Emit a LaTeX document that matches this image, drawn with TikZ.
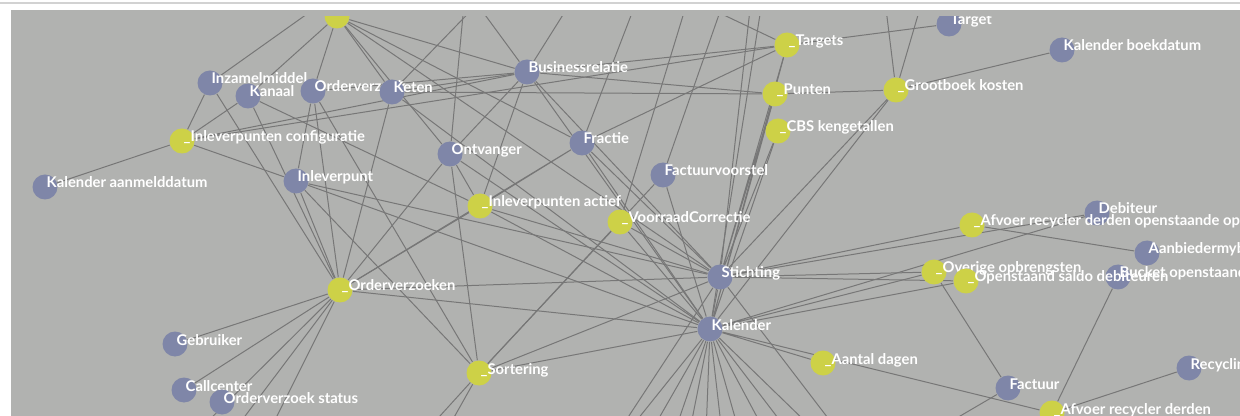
\documentclass[tikz,border=0pt]{standalone}
\usepackage{fontspec}
\setmainfont{Lato}
\usetikzlibrary{backgrounds}
\definecolor{panel-gray}{HTML}{B1B2B0}
\definecolor{rule-gray}{HTML}{D2D2D2}
\definecolor{node-blue}{HTML}{7F86A8}
\definecolor{node-yellow}{HTML}{CDD147}
\definecolor{link-gray}{HTML}{777777}
\tikzset{
    blue-node/.style = {circle, fill=node-blue, minimum size=12.5pt, inner sep=0pt},
    yellow-node/.style = {circle, fill=node-yellow, minimum size=12.5pt, inner sep=0pt},
    node-label/.style = {text=white, font=\fontsize{7.4}{8}\selectfont\bfseries, inner sep=0pt, anchor=base west, xshift=-5.8pt, yshift=-0.5pt},
    link/.style = {draw=link-gray, line width=0.5pt},
}

\begin{document}
\begin{tikzpicture}[x=0.5pt, y=-0.5pt]
\useasboundingbox (0,0) rectangle (1240,416);

\begin{scope}
\clip (11,17) rectangle (1240,416);
\node [yellow-node] (t1) at (337,16) {};
\node [blue-node, label={[node-label]0:Target}] (tgt) at (949,24) {};
\node [blue-node, label={[node-label]0:Kalender boekdatum}] (kalbk) at (1062,50) {};
\node [yellow-node, label={[node-label]0:\_Targets}] (targets) at (787,45) {};
\node [yellow-node, label={[node-label]0:\_Punten}] (punten) at (775,94) {};
\node [yellow-node, label={[node-label]0:\_CBS kengetallen}] (cbs) at (778,131) {};
\node [yellow-node, label={[node-label]0:\_Grootboek kosten}] (grootb) at (896,90) {};
\node [blue-node, label={[node-label]0:Businessrelatie}] (busrel) at (527,72) {};
\node [blue-node, label={[node-label]0:Inzamelmiddel}] (inzam) at (210,83) {};
\node [blue-node, label={[node-label]0:Kanaal}] (kanaal) at (248,96) {};
\node [blue-node, label={[node-label]0:Orderverzoek}] (ordrq) at (313,91) {};
\node [blue-node, label={[node-label]0:Keten}] (keten) at (392,92) {};
\node [yellow-node, label={[node-label]0:\_Inleverpunten configuratie}] (inlcfg) at (182,141) {};
\node [blue-node, label={[node-label]0:Kalender aanmelddatum}] (kaldat) at (45,187) {};
\node [blue-node, label={[node-label]0:Inleverpunt}] (inlpunt) at (296,181) {};
\node [blue-node, label={[node-label]0:Ontvanger}] (ontv) at (450,154) {};
\node [blue-node, label={[node-label]0:Fractie}] (fractie) at (582,143) {};
\node [blue-node, label={[node-label]0:Factuurvoorstel}] (factvs) at (663,175) {};
\node [yellow-node, label={[node-label]0:\_Inleverpunten actief}] (inlact) at (480,206) {};
\node [yellow-node, label={[node-label]0:\_VoorraadCorrectie}] (voorraad) at (620,222) {};
\node [blue-node, label={[node-label]0:Stichting}] (sticht) at (720,277) {};
\node [blue-node, label={[node-label]0:Kalender}] (kal) at (710,329) {};
\node [yellow-node, label={[node-label]0:\_Orderverzoeken}] (ordv) at (340,290) {};
\node [blue-node, label={[node-label]0:Gebruiker}] (gebr) at (175,344) {};
\node [blue-node, label={[node-label]0:Callcenter}] (callc) at (184,390) {};
\node [blue-node, label={[node-label]0:Orderverzoek status}] (ordst) at (222,402) {};
\node [yellow-node, label={[node-label]0:\_Sortering}] (sort) at (479,373) {};
\node [yellow-node, label={[node-label]0:\_Aantal dagen}] (aantal) at (823,363) {};
\node [blue-node, label={[node-label]0:Factuur}] (factuur) at (1008,388) {};
\node [yellow-node, label={[node-label]0:\_Afvoer recycler derden}] (afvoer) at (1052,413) {};
\node [blue-node, label={[node-label]0:Recyclin}] (recyc) at (1189,368) {};
\node [blue-node, label={[node-label]0:Debiteur}] (debit) at (1097,213) {};
\node [yellow-node, label={[node-label]0:\_Afvoer recycler derden openstaande op}] (afvopen) at (972,225) {};
\node [blue-node, label={[node-label]0:Aanbiedermyb}] (aanb) at (1147,253) {};
\node [yellow-node, label={[node-label]0:\_Overige opbrengsten}] (overig) at (934,272) {};
\node [blue-node, label={[node-label]0:Bucket openstaand}] (bucket) at (1118,277) {};
\node [yellow-node, label={[node-label]0:\_Openstaand saldo debiteuren}] (opensal) at (966,281) {};
\end{scope}

\coordinate (top-a) at (383,-40);
\coordinate (top-b) at (470,-60);
\coordinate (top-c) at (430,-60);
\coordinate (top-d) at (610,-60);
\coordinate (top-f) at (660,-60);
\coordinate (top-g) at (745,-60);
\coordinate (top-h) at (760,-80);
\coordinate (top-i) at (775,-80);
\coordinate (top-j) at (880,-40);
\coordinate (top-k) at (940,-60);
\coordinate (top-l) at (650,-20);
\coordinate (top-m) at (520,-40);
\coordinate (top-o) at (700,-40);
\coordinate (bot-a) at (169,460);
\coordinate (bot-b) at (212,460);
\coordinate (bot-c) at (255,460);
\coordinate (bot-d) at (400,460);
\coordinate (bot-e) at (430,460);
\coordinate (bot-f) at (605,460);
\coordinate (bot-g) at (635,460);
\coordinate (bot-h) at (665,460);
\coordinate (bot-i) at (684,460);
\coordinate (bot-j) at (705,460);
\coordinate (bot-k) at (725,460);
\coordinate (bot-l) at (747,460);
\coordinate (bot-m) at (780,460);
\coordinate (bot-n) at (810,460);
\coordinate (bot-o) at (845,460);
\coordinate (bot-p) at (600,460);
\coordinate (bot-q) at (860,460);
\coordinate (bot-r) at (885,460);

\begin{scope}[on background layer]
\draw [rule-gray, line width=0.6pt] (0,3) -- (1240,3);
\fill [panel-gray] (11,10) rectangle (1240,416);
\clip (11,17) rectangle (1240,416);
\draw [link] (kaldat) -- (inlcfg);
\draw [link] (inlcfg) -- (inzam) (inlcfg) -- (kanaal) (inlcfg) -- (inlpunt) (inlcfg) -- (busrel) (inlcfg) -- (targets);
\draw [link] (inzam) -- (top-a) (inzam) -- (ordv);
\draw [link] (kanaal) -- (t1) (kanaal) -- (inlact) (kanaal) -- (ordv);
\draw [link] (ordrq) -- (t1) (ordrq) -- (ordv) (ordrq) -- (inlpunt) (ordrq) -- (busrel) (ordrq) -- (sort);
\draw [link] (keten) -- (t1) (keten) -- (ordv) (keten) -- (busrel) (keten) -- (punten) (keten) -- (kal) (keten) -- (top-m);
\draw [link] (t1) -- (busrel) (t1) -- (ontv) (t1) -- (fractie) (t1) -- (sticht);
\draw [link] (inlpunt) -- (ordv) (inlpunt) -- (sort) (inlpunt) -- (sticht) (inlpunt) -- (kal);
\draw [link] (ontv) -- (ordv) (ontv) -- (inlact) (ontv) -- (kal) (ontv) -- (sort) (ontv) -- (top-b) (ontv) -- (busrel);
\draw [link] (busrel) -- (inlact) (busrel) -- (kal) (busrel) -- (sticht) (busrel) -- (punten) (busrel) -- (targets) (busrel) -- (top-c) (busrel) -- (top-d);
\draw [link] (fractie) -- (inlact) (fractie) -- (ordv) (fractie) -- (kal) (fractie) -- (sticht) (fractie) -- (targets) (fractie) -- (top-f);
\draw [link] (factvs) -- (top-g) (factvs) -- (kal) (factvs) -- (sort);
\draw [link] (inlact) -- (sticht) (inlact) -- (kal) (inlact) -- (ordv);
\draw [link] (voorraad) -- (kal) (voorraad) -- (sticht) (voorraad) -- (sort) (voorraad) -- (top-o);
\draw [link] (ordv) -- (gebr) (ordv) -- (callc) (ordv) -- (bot-a) (ordv) -- (bot-b) (ordv) -- (bot-c) (ordv) -- (sticht) (ordv) -- (kal);
\draw [link] (sort) -- (kal) (sort) -- (sticht) (sort) -- (bot-d) (sort) -- (bot-e);
\draw [link] (sticht) -- (targets) (sticht) -- (punten) (sticht) -- (cbs) (sticht) -- (grootb) (sticht) -- (overig) (sticht) -- (opensal) (sticht) -- (afvopen) (sticht) -- (kal) (sticht) -- (top-h) (sticht) -- (bot-p) (sticht) -- (bot-q) (sticht) -- (debit);
\draw [link] (kal) -- (punten) (kal) -- (cbs) (kal) -- (grootb) (kal) -- (targets) (kal) -- (overig) (kal) -- (opensal) (kal) -- (debit) (kal) -- (aantal) (kal) -- (afvoer) (kal) -- (top-i);
\draw [link] (kal) -- (bot-f) (kal) -- (bot-g) (kal) -- (bot-h) (kal) -- (bot-i) (kal) -- (bot-j) (kal) -- (bot-k) (kal) -- (bot-l) (kal) -- (bot-m) (kal) -- (bot-n) (kal) -- (bot-o);
\draw [link] (grootb) -- (kalbk) (grootb) -- (punten) (grootb) -- (top-j) (grootb) -- (top-k);
\draw [link] (targets) -- (tgt) (targets) -- (top-l);
\draw [link] (afvopen) -- (aanb);
\draw [link] (overig) -- (factuur);
\draw [link] (afvoer) -- (bucket) (afvoer) -- (recyc);
\draw [link] (factuur) -- (bot-r);
\end{scope}
\end{tikzpicture}
\end{document}
